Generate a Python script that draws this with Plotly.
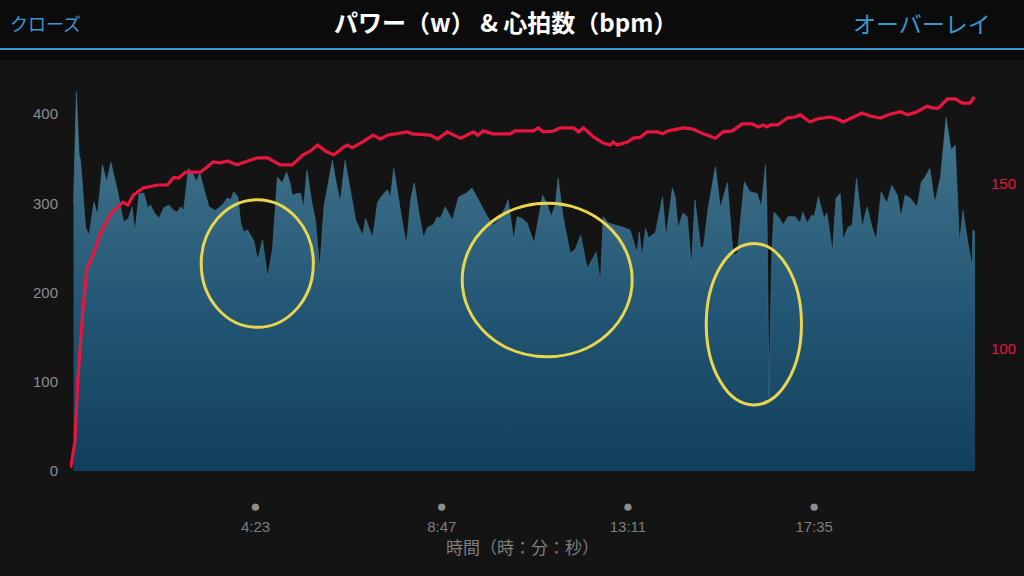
import plotly.graph_objects as go

# ---- data (time in seconds) ----
power_t = [5, 9, 13, 15, 22, 27, 34, 39, 46, 52, 58, 67, 76, 83, 88, 92, 98, 105, 110, 114,
           119, 126, 133, 140, 147, 152, 157, 161, 168, 175, 179, 184, 191, 197, 206, 216, 223,
           228, 232, 238, 242, 246, 252, 261, 266, 273, 280, 287, 294, 301, 307, 312, 315, 322,
           327, 331, 336, 343, 348, 354, 360, 367, 372, 376, 383, 390, 398, 405, 415, 419, 429,
           436, 443, 450, 454, 459, 469, 477, 483, 488, 494, 501, 507, 515, 521, 525, 532, 542,
           551, 561, 570, 578, 585, 592, 599, 604, 610, 617, 621, 629, 634, 641, 648, 658, 664,
           670, 677, 682, 688, 692, 699, 709, 716, 724, 733, 741, 746, 752, 756, 763, 773, 784,
           794, 804, 807, 811, 816, 820, 830, 840, 845, 854, 858, 862, 869, 875, 881, 886, 894,
           898, 905, 915, 922, 932, 940, 946, 956, 964, 974, 980, 986, 988, 991, 995, 998, 1004,
           1011, 1018, 1028, 1035, 1039, 1045, 1052, 1055, 1061, 1069, 1073, 1081, 1086, 1092,
           1096, 1103, 1109, 1115, 1123, 1130, 1137, 1143, 1150, 1158, 1165, 1173, 1178, 1184,
           1191, 1201, 1207, 1212, 1219, 1226, 1234, 1242, 1249, 1255, 1261, 1266, 1273, 1279,
           1280, 1283]
power_w = [300, 425, 354, 348, 273, 264, 301, 287, 343, 324, 346, 315, 279, 283, 296, 268, 311,
           311, 295, 298, 290, 283, 295, 298, 292, 290, 296, 292, 339, 332, 324, 334, 313, 296,
           292, 298, 306, 304, 313, 307, 278, 268, 270, 257, 236, 259, 217, 248, 329, 323, 335,
           323, 309, 311, 311, 295, 337, 300, 281, 227, 296, 328, 348, 329, 301, 348, 311, 281,
           264, 283, 261, 301, 309, 315, 306, 339, 289, 253, 304, 323, 292, 262, 273, 276, 285,
           283, 296, 281, 307, 311, 317, 306, 295, 285, 276, 278, 285, 295, 304, 259, 285, 283,
           278, 255, 281, 309, 298, 285, 298, 328, 285, 244, 248, 264, 227, 239, 245, 211, 285,
           278, 276, 273, 270, 244, 268, 240, 272, 261, 267, 307, 262, 317, 307, 272, 289, 285,
           229, 304, 250, 251, 296, 341, 295, 323, 242, 244, 324, 313, 311, 296, 343, 296, 83,
           244, 290, 285, 276, 285, 285, 278, 290, 278, 287, 285, 307, 283, 289, 245, 306, 311,
           259, 273, 276, 328, 273, 296, 273, 259, 313, 300, 320, 309, 285, 309, 306, 296, 324,
           329, 339, 300, 329, 396, 360, 365, 255, 292, 255, 229, 270, 268]

hr_t = [1, 7, 11, 18, 24, 32, 43, 58, 75, 82, 90, 104, 124, 138, 147, 154, 164, 185, 203, 213,
        223, 237, 252, 266, 280, 298, 315, 330, 341, 351, 362, 374, 388, 393, 400, 412, 430, 440,
        450, 478, 485, 511, 521, 535, 544, 554, 572, 578, 586, 600, 624, 631, 657, 664, 671, 685,
        695, 714, 721, 728, 742, 756, 766, 770, 776, 790, 799, 809, 818, 833, 840, 848, 870, 882,
        898, 915, 926, 939, 953, 967, 976, 983, 988, 993, 1003, 1017, 1028, 1035, 1049, 1059,
        1078, 1088, 1096, 1109, 1123, 1134, 1149, 1160, 1177, 1188, 1201, 1215, 1224, 1231, 1244,
        1255, 1265, 1276, 1282]
hr_bpm = [64, 72, 90.6, 111, 124.5, 128, 135, 141, 144.5, 143.6, 146.7, 148.8, 149.7, 149.7, 152,
          151.8, 153.6, 153.6, 156.7, 156.4, 157, 155.8, 157, 157.9, 157.9, 155.8, 155.8, 158.8,
          160, 161.8, 160, 158.8, 161.2, 161.8, 161, 162.4, 164.8, 163.6, 164.8, 165.8, 165.2,
          164.8, 163.6, 165.8, 164.8, 163.9, 165.8, 164.8, 166.1, 165.2, 165.2, 166.1, 166.1, 167,
          165.8, 166, 167, 167, 165.8, 167, 164.3, 162.4, 161.8, 162.7, 161.8, 162.7, 163.9, 164.2,
          165.8, 165.8, 165.2, 166.1, 167, 166.7, 165.2, 163.9, 165.8, 166.1, 168.2, 168.2, 167.3,
          167.9, 167.3, 167.9, 167.9, 170, 170.3, 171, 168.8, 169.7, 170.3, 169.7, 168.8, 170,
          171.5, 170.6, 170, 171, 171.9, 171, 171.9, 173.6, 173, 173, 175.8, 175.8, 174.5, 174.5,
          176.4]

x_tick_vals = [263, 527, 791, 1055]
x_tick_labels = ["4:23", "8:47", "13:11", "17:35"]
power_ticks = [0, 100, 200, 300, 400]
hr_ticks = [100, 150]

BG = "#141414"
HEAD = "#0b0b0b"
BLUE = "#3b97cf"
RED = "#e8153f"
GRAY = "#8c8c8c"
FONT = "Liberation Sans, Noto Sans CJK JP, sans-serif"
JP = "Noto Sans CJK JP, sans-serif"

fig = go.Figure()

fig.add_trace(go.Scatter(
    x=power_t, y=power_w, mode="lines", fill="tozeroy",
    line=dict(color="#41738b", width=0.6),
    fillgradient=dict(type="vertical",
                      colorscale=[[0, "#113f5b"], [0.45, "#245876"], [0.75, "#386a84"], [1, "#487c95"]],
                      start=0, stop=425),
    hoverinfo="skip", showlegend=False, yaxis="y"))

fig.add_trace(go.Scatter(
    x=hr_t, y=hr_bpm, mode="lines", line=dict(color=RED, width=3.2, shape="linear"),
    hoverinfo="skip", showlegend=False, yaxis="y2"))

# yellow hand-drawn markings (approximate)
circ = [(186, 345, 161, 304), (556, 797, 128, 300), (902, 1037, 74, 255)]
for x0, x1, y0, y1 in circ:
    fig.add_shape(type="circle", xref="x", yref="y", x0=x0, x1=x1, y0=y0, y1=y1,
                  line=dict(color="#e9d54e", width=3))

# header
fig.add_shape(type="rect", xref="paper", yref="paper", x0=-0.1, x1=1.1, y0=1.0, y1=1.3,
              fillcolor=HEAD, line_width=0, layer="below")

fig.update_layout(
    width=1024, height=576,
    margin=dict(l=70, r=49, t=60, b=105, autoexpand=False),
    paper_bgcolor=BG, plot_bgcolor=BG,
    font=dict(family=FONT, color=GRAY),
    xaxis=dict(range=[0, 1283], showgrid=False, zeroline=False, showline=False, automargin=False,
               tickmode="array", tickvals=x_tick_vals,
               ticktext=["<span style='font-size:17px;color:#8e8e8e'>●</span><br>" + t for t in x_tick_labels],
               ticks="outside", ticklen=22, tickcolor="rgba(0,0,0,0)",
               tickfont=dict(size=15, color="#7d7d7d", family=FONT),
               title=dict(text="時間（時：分：秒）", font=dict(size=17, color="#7d7d7d", family=JP), standoff=5),
               fixedrange=True),
    yaxis=dict(range=[0, 460.5], showgrid=False, zeroline=False, showline=False, automargin=False,
               tickvals=power_ticks, ticks="outside", ticklen=8, tickcolor="rgba(0,0,0,0)",
               tickfont=dict(size=15, color=GRAY)),
    yaxis2=dict(range=[63.03, 187.58], overlaying="y", side="right", showgrid=False, automargin=False,
                zeroline=False, showline=False, tickvals=hr_ticks, ticks="outside", ticklen=12,
                tickcolor="rgba(0,0,0,0)", tickfont=dict(size=15, color=RED)),
    shapes=list(fig.layout.shapes) + [
        dict(type="line", xref="paper", yref="paper", x0=-0.1, x1=1.1, y0=1.0 + 11 / 411, y1=1.0 + 11 / 411,
             line=dict(color=BLUE, width=2))
    ],
    annotations=[
        dict(text="<b>パワー（w） & 心拍数（bpm）</b>", xref="paper", yref="paper",
             x=(505 - 70) / 905, y=1 + (60 - 22) / 411, xanchor="center", yanchor="middle",
             showarrow=False, font=dict(size=24, color="#ffffff", family=JP)),
        dict(text="クローズ", xref="paper", yref="paper", x=(8 - 70) / 905, y=1 + (60 - 23) / 411,
             xanchor="left", yanchor="middle", showarrow=False,
             font=dict(size=18, color=BLUE, family=JP)),
        dict(text="オーバーレイ", xref="paper", yref="paper", x=(993 - 70) / 905, y=1 + (60 - 23) / 411,
             xanchor="right", yanchor="middle", showarrow=False,
             font=dict(size=23, color=BLUE, family=JP)),
    ],
)

fig.write_html("out.html", config={"displayModeBar": False},
               post_script="document.body.style.margin='0';document.body.style.background='#141414';")
